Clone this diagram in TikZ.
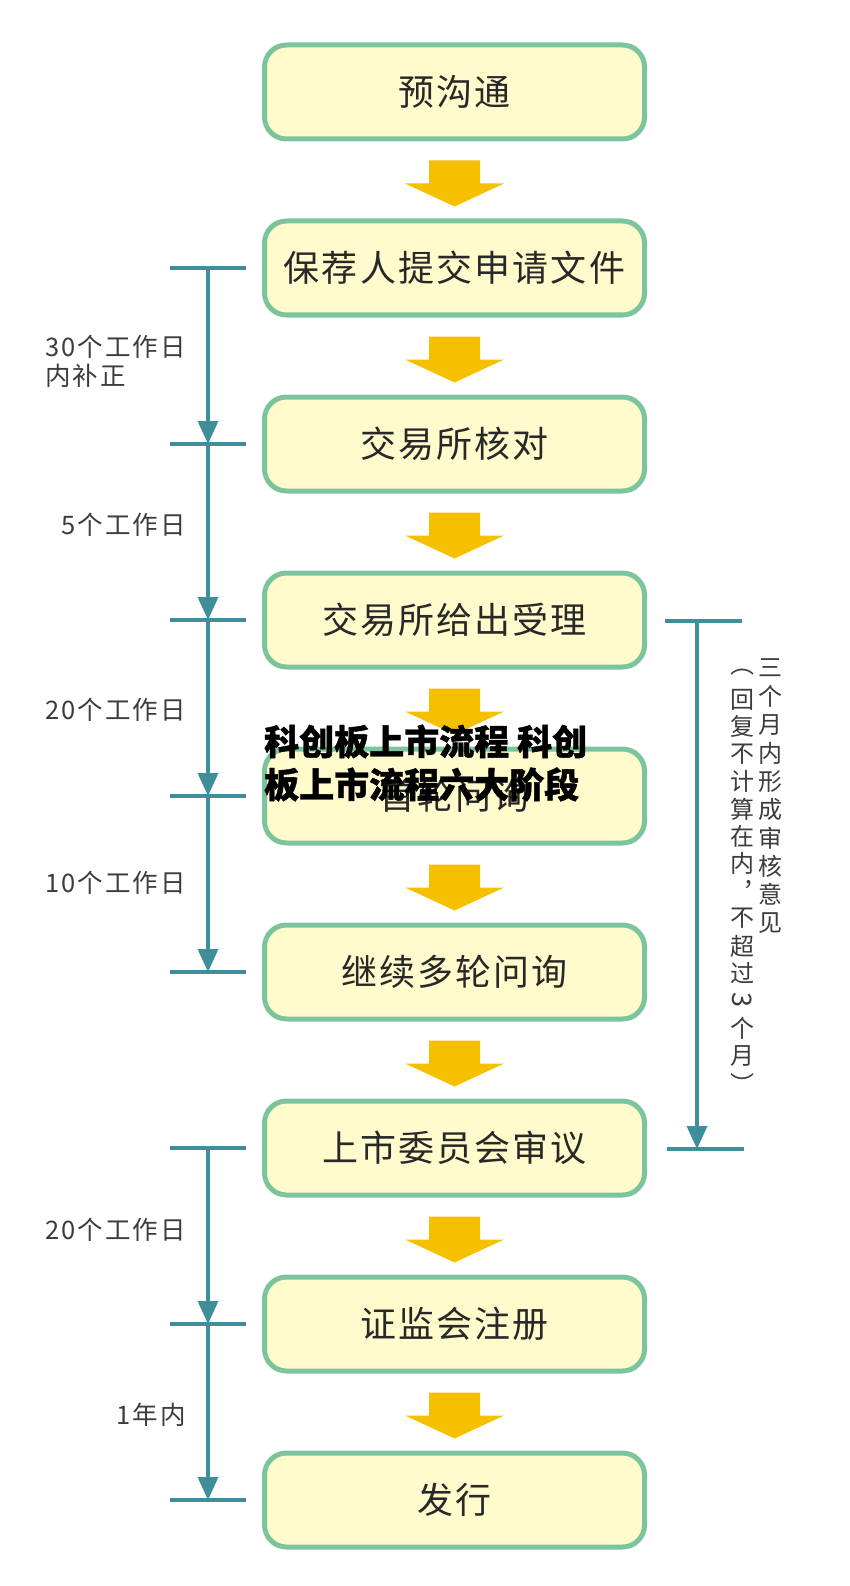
\documentclass[tikz,border=0pt]{standalone}
\usepackage{fontspec}
\usetikzlibrary{arrows.meta,calc}
\newfontfamily\cjk{Noto Sans CJK SC}
\newfontfamily\cjkt{Noto Sans CJK SC}[BoldFeatures={FakeBold=1.2}]
\newfontfamily\cjkbox{Noto Sans CJK SC}[LetterSpace=6]
\newfontfamily\cjklbl{Noto Sans CJK SC}[LetterSpace=8]
\definecolor{boxline}{RGB}{124,196,158}
\definecolor{boxfill}{RGB}{255,251,204}
\definecolor{yel}{RGB}{245,192,0}
\definecolor{teal}{RGB}{62,142,155}
\definecolor{txt}{RGB}{40,40,40}
\definecolor{lbl}{RGB}{60,60,60}
\tikzset{
  stepbox/.style={draw=boxline, line width=5pt, fill=boxfill, rounded corners=22pt,
    minimum width=380pt, minimum height=94pt, inner sep=0pt,
    font=\cjkbox\fontsize{36}{40}\selectfont, text=txt},
  tline/.style={draw=teal, line width=3.5pt},
  tarrow/.style={tline, -{Triangle[width=20pt,length=23pt]}},
  lbltext/.style={font=\cjklbl\fontsize{25.5}{29}\selectfont, text=lbl, inner sep=0pt, align=left},
  vchar/.style={font=\cjk\fontsize{24}{28}\selectfont, text=lbl, inner sep=0pt},
  bigarrow/.style={fill=yel},
}
\begin{document}
\begin{tikzpicture}[x=1pt,y=-1pt]
\useasboundingbox (0,0) rectangle (850,1586);
% boxes
\foreach \t [count=\i] in {预沟通,保荐人提交申请文件,交易所核对,交易所给出受理,首轮问询,继续多轮问询,上市委员会审议,证监会注册,发行}{
  \node[stepbox] (b\i) at (454.5,{92+176*(\i-1)}) {\t};
}
% yellow arrows
\foreach \i [evaluate=\i as \j using int(\i+1)] in {1,...,8}{
  \fill[bigarrow] ($(b\i.south)+(-25.5pt,-19pt)$) -- ($(b\i.south)+(25.5pt,-19pt)$)
    -- ($(b\i.south)+(25.5pt,-42pt)$) -- ($(b\i.south)+(49.5pt,-42pt)$)
    -- ($(b\j.north)+(0pt,12pt)$) -- ($(b\i.south)+(-49.5pt,-42pt)$)
    -- ($(b\i.south)+(-25.5pt,-42pt)$) -- cycle;
}
% left timeline
\foreach \i in {2,...,9}{
  \coordinate (L\i) at (208,{92+176*(\i-1)});
  \coordinate (La\i) at (170,{92+176*(\i-1)});
  \coordinate (Lb\i) at (246,{92+176*(\i-1)});
  \draw[tline] (La\i) -- (Lb\i);
}
\draw[tarrow] (L2) -- (L3);
\draw[tarrow] (L3) -- (L4);
\draw[tarrow] (L4) -- (L5);
\draw[tarrow] (L5) -- (L6);
\draw[tarrow] (L7) -- (L8);
\draw[tarrow] (L8) -- (L9);
% left labels
\node[lbltext, anchor=east] (t1) at (186,361) {30个工作日\\内补正};
\node[lbltext, anchor=east] (t2) at (186,525) {5个工作日};
\node[lbltext, anchor=east] (t3) at (186,710) {20个工作日};
\node[lbltext, anchor=east] (t4) at (186,883) {10个工作日};
\node[lbltext, anchor=east] (t5) at (186,1230) {20个工作日};
\node[lbltext, anchor=east] (t6) at (186,1415) {1年内};
% right timeline
\coordinate (R4) at (697,621);
\coordinate (R7) at (697,1149);
\coordinate (Ra4) at (665,621);
\coordinate (Rb4) at (742,621);
\coordinate (Ra7) at (667,1149);
\coordinate (Rb7) at (744,1149);
\draw[tline] (Ra4) -- (Rb4);
\draw[tline] (Ra7) -- (Rb7);
\draw[tarrow] (R4) -- (R7);
% vertical text
\foreach \c [count=\i] in {三,个,月,内,形,成,审,核,意,见}{
  \node[vchar] (va\i) at (770,{668+28.3*(\i-1)}) {\c};
}
\foreach \c [count=\i] in {︵,回,复,不,计,算,在,内,︐,不,超,过,{\rotatebox[origin=c]{-90}{\fontsize{27}{28}\selectfont 3}},个,月,︶}{
  \node[vchar] (vb\i) at (742,{672+27.4*(\i-1)}) {\c};
}
% overlay title
\node[font=\cjkt\bfseries\fontsize{35}{43}\selectfont, text=black, align=left, inner sep=0pt, anchor=west] (title) at (264,763) {科创板上市流程 科创\\板上市流程六大阶段};
\end{tikzpicture}
\end{document}
